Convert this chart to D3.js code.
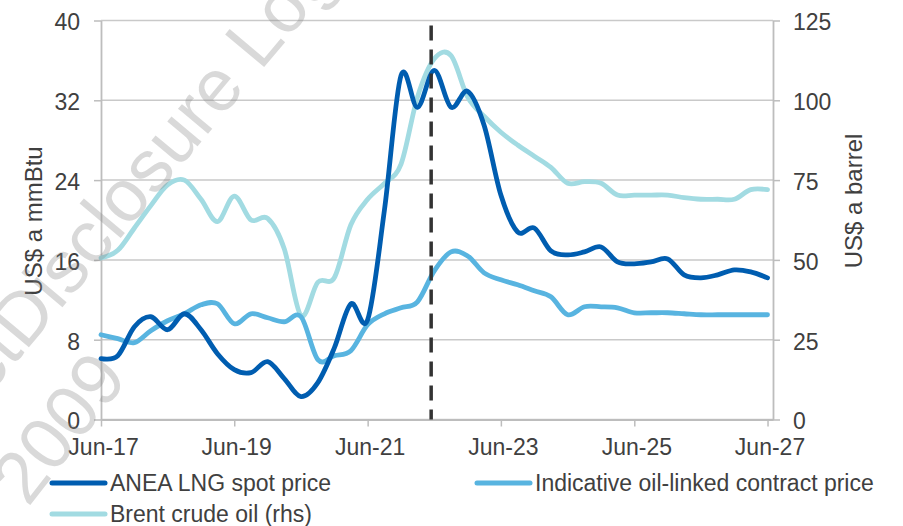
<!DOCTYPE html>
<html>
<head>
<meta charset="utf-8">
<script src="https://cdn.jsdelivr.net/npm/d3@7"></script>
<style>
  html, body { margin: 0; padding: 0; background: #fff; }
  svg { display: block; font-family: "Liberation Sans", Arial, sans-serif; }
</style>
</head>
<body>
<svg id="chart" width="903" height="526"></svg>
<script>
// Quarterly observations and outlook
const quarters = [
  "2017-06","2017-09","2017-12","2018-03","2018-06","2018-09","2018-12","2019-03",
  "2019-06","2019-09","2019-12","2020-03","2020-06","2020-09","2020-12","2021-03",
  "2021-06","2021-09","2021-12","2022-03","2022-06","2022-09","2022-12","2023-03",
  "2023-06","2023-09","2023-12","2024-03","2024-06","2024-09","2024-12","2025-03",
  "2025-06","2025-09","2025-12","2026-03","2026-06","2026-09","2026-12","2027-03",
  "2027-06"
];

// US$ a mmBtu
const aneaSpot = [
  6.1, 6.4, 9.3, 10.3, 9.0, 10.6, 9.0, 6.6,
  5.0, 4.7, 5.8, 4.1, 2.3, 3.7, 7.2, 11.6,
  10.0, 21.0, 34.5, 31.3, 35.0, 31.3, 32.9, 29.5,
  22.5, 18.8, 19.2, 16.9, 16.5, 16.8, 17.3, 15.8,
  15.6, 15.8, 16.1, 14.5, 14.2, 14.5, 15.0, 14.8,
  14.2
];
const oilLinked = [
  8.5, 8.1, 7.7, 8.9, 9.9, 10.6, 11.5, 11.6,
  9.6, 10.6, 10.2, 9.8, 10.3, 6.0, 6.4, 6.9,
  9.5, 10.6, 11.2, 11.8, 14.9, 16.8, 16.4, 14.7,
  14.0, 13.5, 12.9, 12.3, 10.5, 11.3, 11.3, 11.2,
  10.7, 10.7, 10.7, 10.6, 10.5, 10.5, 10.5, 10.5,
  10.5
];
// US$ a barrel (right-hand scale)
const brent = [
  50.6, 53, 60, 67, 73.5, 75, 69, 62,
  70, 62.5, 63, 53.5, 32.5, 43, 44.5, 61,
  69, 74, 80, 101, 113, 114, 101, 95,
  90, 86, 82.5, 79, 74, 74.5, 74, 70.3,
  70.3, 70.3, 70.3, 69.5, 69, 69, 69, 72,
  72
];

const leftTicks = [0, 8, 16, 24, 32, 40];
const rightTicks = [0, 25, 50, 75, 100, 125];
const xTickLabels = ["Jun-17", "Jun-19", "Jun-21", "Jun-23", "Jun-25", "Jun-27"];
const forecastStart = "2022-05-15";

const seriesNames = ["ANEA LNG spot price", "Indicative oil-linked contract price", "Brent crude oil (rhs)"];
const seriesColors = ["#005db0", "#58b4e0", "#a2dbe2"];

const parseMonth = d3.timeParse("%Y-%m");
const parseDay = d3.timeParse("%Y-%m-%d");
const parseTick = d3.timeParse("%b-%y");

const svg = d3.select("#chart");
const plot = { left: 101, right: 773, top: 20.5, bottom: 419.5 };

const x = d3.scaleTime()
  .domain([parseMonth("2017-06"), parseMonth("2027-07")])
  .range([plot.left, plot.right]);
const yL = d3.scaleLinear().domain([0, 40]).range([plot.bottom, plot.top]);
const yR = d3.scaleLinear().domain([0, 125]).range([plot.bottom, plot.top]);

const gridColor = "#c9c9c9";
const axisColor = "#bdbdbd";
const textColor = "#404040";

// Horizontal gridlines
svg.append("g")
  .selectAll("line")
  .data(leftTicks)
  .join("line")
  .attr("x1", plot.left).attr("x2", plot.right)
  .attr("y1", d => yL(d)).attr("y2", d => yL(d))
  .attr("stroke", gridColor).attr("stroke-width", 1.5);

// Axes
const xAxis = d3.axisBottom(x)
  .tickValues(xTickLabels.map(parseTick))
  .tickFormat(d3.timeFormat("%b-%y"))
  .tickSize(7).tickSizeOuter(0);
const gx = svg.append("g").attr("transform", `translate(0,${plot.bottom})`).call(xAxis);
gx.select(".domain").attr("stroke", axisColor).attr("stroke-width", 1.8);
gx.selectAll(".tick line").attr("stroke", axisColor).attr("stroke-width", 1.5);
gx.selectAll(".tick text")
  .attr("dy", null).attr("y", 35).attr("x", 2)
  .attr("fill", textColor).style("font-size", "23px");

const leftAxis = d3.axisLeft(yL).tickValues(leftTicks).tickSize(7).tickSizeOuter(0).tickPadding(14);
const gl = svg.append("g").attr("transform", `translate(${plot.left},0)`).call(leftAxis);
gl.select(".domain").attr("stroke", axisColor).attr("stroke-width", 1.8);
gl.selectAll(".tick line").attr("stroke", axisColor).attr("stroke-width", 1.5);
gl.selectAll(".tick text").attr("dy", "0.41em").attr("fill", textColor).style("font-size", "23px");

const rightAxis = d3.axisRight(yR).tickValues(rightTicks).tickSize(7).tickSizeOuter(0).tickPadding(13);
const gr = svg.append("g").attr("transform", `translate(${plot.right},0)`).call(rightAxis);
gr.select(".domain").attr("stroke", axisColor).attr("stroke-width", 1.8);
gr.selectAll(".tick line").attr("stroke", axisColor).attr("stroke-width", 1.5);
gr.selectAll(".tick text").attr("dy", "0.41em").attr("fill", textColor).style("font-size", "23px");

svg.selectAll(".tick text").style("font-family", "'Liberation Sans', Arial, sans-serif");

// Axis titles
svg.append("text")
  .attr("transform", `translate(42,${(plot.top + plot.bottom) / 2 + 1}) rotate(-90)`)
  .attr("text-anchor", "middle")
  .attr("fill", textColor).style("font-size", "24px")
  .text("US$ a mmBtu");
svg.append("text")
  .attr("transform", `translate(862,${(plot.top + plot.bottom) / 2 - 19}) rotate(-90)`)
  .attr("text-anchor", "middle")
  .attr("fill", textColor).style("font-size", "24px")
  .text("US$ a barrel");

// Series lines
const dates = quarters.map(parseMonth);
const curve = d3.curveCardinal.tension(0);
const lineL = d3.line().x((d, i) => x(dates[i])).y(d => yL(d)).curve(curve);
const lineR = d3.line().x((d, i) => x(dates[i])).y(d => yR(d)).curve(curve);

const series = [
  { values: brent, line: lineR, color: seriesColors[2] },
  { values: oilLinked, line: lineL, color: seriesColors[1] },
  { values: aneaSpot, line: lineL, color: seriesColors[0] }
];
svg.append("g")
  .selectAll("path")
  .data(series)
  .join("path")
  .attr("d", d => d.line(d.values))
  .attr("fill", "none")
  .attr("stroke", d => d.color)
  .attr("stroke-width", 4.8)
  .attr("stroke-linejoin", "round")
  .attr("stroke-linecap", "round");

// Start of the outlook period
svg.append("line")
  .attr("x1", x(parseDay(forecastStart))).attr("x2", x(parseDay(forecastStart)))
  .attr("y1", plot.top + 5).attr("y2", plot.bottom)
  .attr("stroke", "#333333").attr("stroke-width", 3.5)
  .attr("stroke-dasharray", "15,9");

// Legend
const legendItems = [
  { name: seriesNames[0], color: seriesColors[0], x: 52, y: 483 },
  { name: seriesNames[1], color: seriesColors[1], x: 477, y: 483 },
  { name: seriesNames[2], color: seriesColors[2], x: 52, y: 514 }
];
const lg = svg.append("g").selectAll("g").data(legendItems).join("g")
  .attr("transform", d => `translate(${d.x},${d.y})`);
lg.append("line")
  .attr("x1", 0).attr("x2", 53).attr("y1", 0).attr("y2", 0)
  .attr("stroke", d => d.color).attr("stroke-width", 5).attr("stroke-linecap", "round");
lg.append("text")
  .attr("x", 58).attr("y", 8)
  .attr("fill", textColor).style("font-size", "23px")
  .text(d => d.name);

// Watermark
const wm = svg.append("g")
  .attr("fill", "rgba(128,128,128,0.3)")
  .style("font-size", "74px")
  .style("pointer-events", "none");
wm.append("text")
  .attr("transform", "translate(25,352) rotate(-50)")
  .attr("text-anchor", "end")
  .text("RTI Act ");
wm.append("text")
  .attr("transform", "translate(25,352) rotate(-50)")
  .text("Disclosure Log");
wm.append("text")
  .attr("transform", "translate(28,508) rotate(-52)")
  .text("2009");
</script>
</body>
</html>
